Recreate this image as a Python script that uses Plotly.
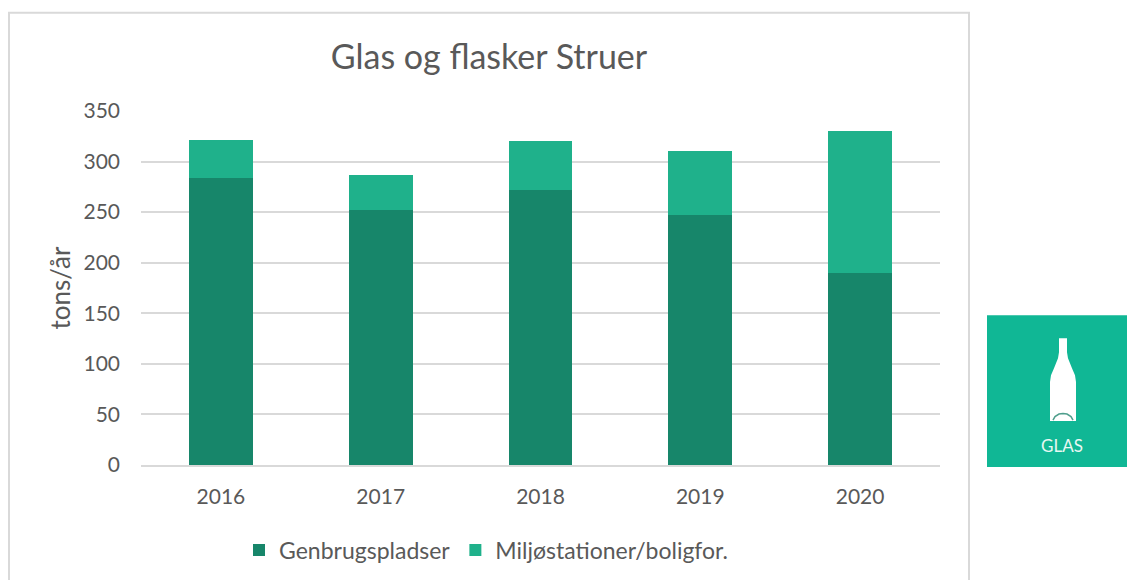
import plotly.graph_objects as go

years = ["2016", "2017", "2018", "2019", "2020"]
genbrug = [284, 252, 272, 247, 190]
miljo = [37, 35, 48, 63, 140]
FONT = "Lato, Carlito, 'Open Sans', sans-serif"
W, H = 1127, 580
L, R, T, B = 141, 940, 110.5, 465

def px(x):
    return (x - L) / (R - L)

def py(y):
    return (B - y) / (B - T)

def path(points, close=True):
    s = ""
    for i, (x, y) in enumerate(points):
        s += ("M" if i == 0 else "L") + f"{px(x):.5f},{py(y):.5f} "
    return s + ("Z" if close else "")

bottle = [(1059, 338), (1067, 338), (1067, 352), (1068, 358), (1072, 368), (1075, 375), (1076, 382),
          (1076, 421), (1050, 421), (1050, 382), (1051, 375), (1054, 368), (1058, 358), (1059, 352)]
arc = [(1053, 420), (1055, 416.5), (1059, 414), (1063, 413.5), (1067, 414), (1071, 416.5), (1073, 420)]

fig = go.Figure()
fig.add_bar(name="Genbrugspladser", x=years, y=genbrug, marker=dict(color="#17866a", line=dict(width=0)))
fig.add_bar(name="Miljøstationer/boligfor.", x=years, y=miljo, marker=dict(color="#1fb18b", line=dict(width=0)))

shapes = [
    dict(type="rect", xref="paper", yref="paper", x0=px(9), x1=px(969), y0=py(12), y1=py(600),
         line=dict(color="#d9d9d9", width=2), fillcolor="rgba(0,0,0,0)", layer="below"),
    dict(type="rect", xref="paper", yref="paper", x0=px(987), x1=px(1127), y0=py(315), y1=py(467),
         line=dict(width=0), fillcolor="#10b795"),
    dict(type="path", xref="paper", yref="paper", path=path(bottle), line=dict(width=0), fillcolor="#ffffff"),
    dict(type="path", xref="paper", yref="paper", path=path(arc, close=False),
         line=dict(color="#4f9e8c", width=1.5), fillcolor="rgba(0,0,0,0)"),
]

fig.update_layout(
    width=W, height=H, autosize=False, barmode="stack", bargap=0.6,
    margin=dict(l=L, r=W - R, t=T, b=H - B, pad=0),
    paper_bgcolor="#ffffff", plot_bgcolor="#ffffff",
    font=dict(family=FONT, color="#595959", size=21),
    title=dict(text="Glas og flasker Struer", font=dict(size=34, color="#595959", family=FONT),
               x=489 / W, xanchor="center", y=1 - 57 / H, yanchor="middle"),
    xaxis=dict(type="category", showgrid=False, ticks="", showline=True, linecolor="#d9d9d9", linewidth=2,
               automargin=False, tickfont=dict(size=21, color="#595959"), ticklabelstandoff=12),
    yaxis=dict(range=[0, 350], dtick=50, gridcolor="#d9d9d9", gridwidth=2, zeroline=False, showline=False,
               automargin=False, ticks="", tickfont=dict(size=21, color="#595959"), ticklabelstandoff=20,
               title=dict(text="tons/år", font=dict(size=26, color="#595959"), standoff=5)),
    legend=dict(orientation="h", xref="container", yref="container", x=239 / W, xanchor="left",
                y=1 - 550 / H, yanchor="middle",
                font=dict(size=23, color="#595959"), traceorder="normal", itemwidth=30,
                bgcolor="rgba(0,0,0,0)"),
    shapes=shapes,
    annotations=[dict(text="GLAS", xref="paper", yref="paper", x=px(1062), y=py(445), showarrow=False,
                      font=dict(size=17, color="#e8f8f3", family=FONT), xanchor="center", yanchor="middle")],
)
fig.write_html("out.html", config=dict(displayModeBar=False),
               post_script="document.body.style.margin='0';document.documentElement.style.overflow='hidden';")
